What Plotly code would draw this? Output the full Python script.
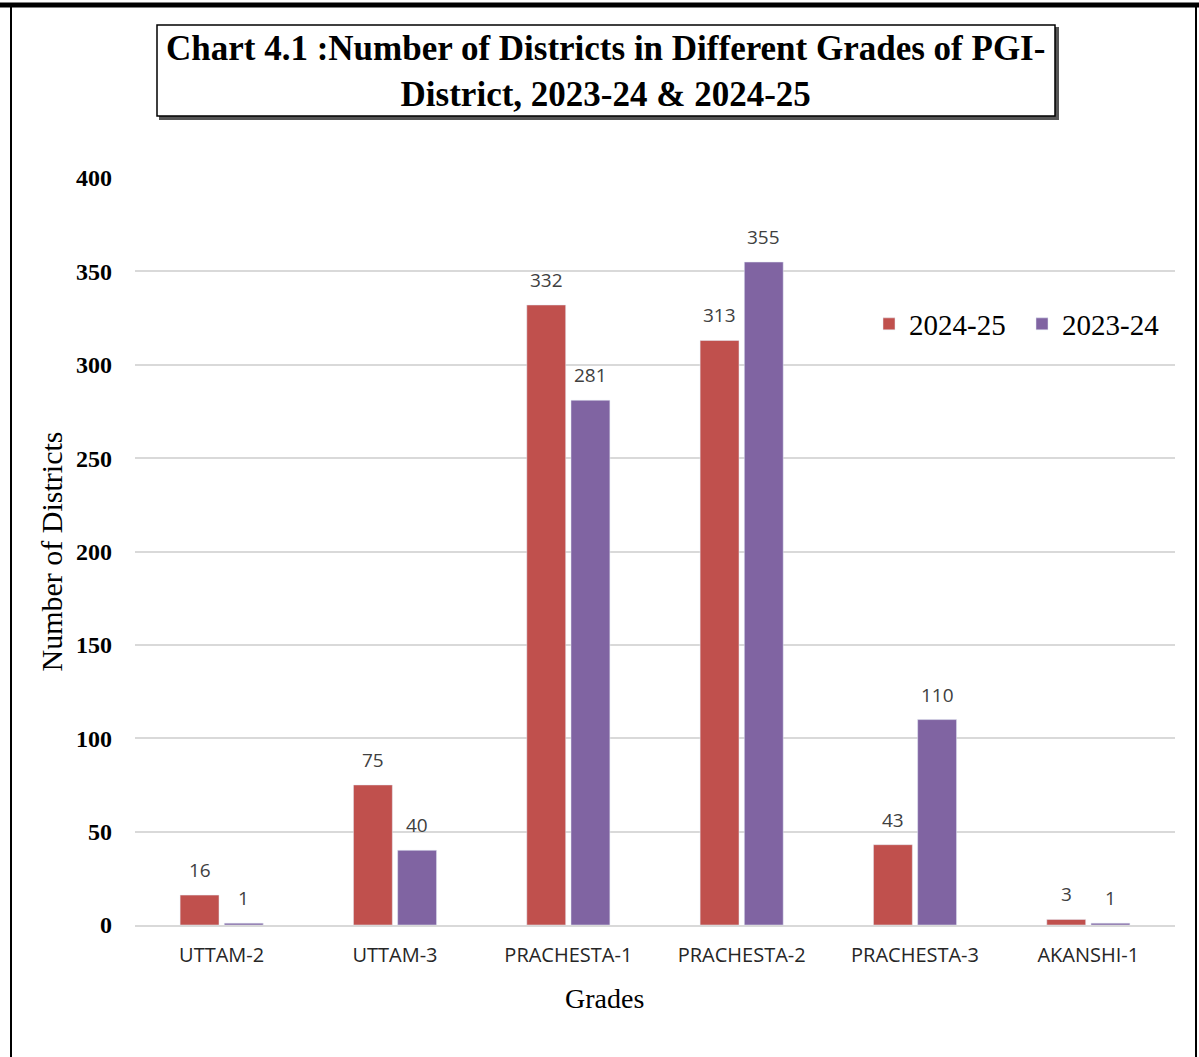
import plotly.graph_objects as go

categories = ["UTTAM-2", "UTTAM-3", "PRACHESTA-1", "PRACHESTA-2", "PRACHESTA-3", "AKANSHI-1"]
values_2024_25 = [16, 75, 332, 313, 43, 3]
values_2023_24 = [1, 40, 281, 355, 110, 1]
y_ticks = [0, 50, 100, 150, 200, 250, 300, 350, 400]

W, H = 1199, 1057
L, R, T, B = 135, 24, 178, 132
PW, PH = W - L - R, H - T - B
BARGAP = 0.49
SERIF = "Liberation Serif"
SANS = "Open Sans"

def px(x):
    return (x - L) / PW

def py(y):
    return (H - B - y) / PH

fig = go.Figure()
fig.add_trace(go.Bar(name="2024-25", x=categories, y=values_2024_25, marker_color="#C0504D"))
fig.add_trace(go.Bar(name="2023-24", x=categories, y=values_2023_24, marker_color="#8064A2"))

# data labels placed above each bar, in data coordinates
half = (1 - BARGAP) / 4
annotations = []
for series, off in ((values_2024_25, -half), (values_2023_24, half)):
    for i, v in enumerate(series):
        annotations.append(dict(
            x=i + off, y=v, xref="x", yref="y", text=str(v), showarrow=False,
            yanchor="middle", xanchor="center", yshift=25,
            font=dict(family=SANS, size=19, color="#404040"),
        ))

annotations.append(dict(
    text="<b>Chart 4.1 :Number of Districts in Different Grades of PGI-<br>District, 2023-24 &amp; 2024-25</b>",
    xref="paper", yref="paper", x=px(605), y=py(71), xanchor="center", yanchor="middle",
    showarrow=False, align="center",
    font=dict(family=SERIF, size=35, color="black")))

annotations.append(dict(
    text="Grades", xref="paper", yref="paper", x=px(604), y=py(999),
    xanchor="center", yanchor="middle", showarrow=False,
    font=dict(family=SERIF, size=28, color="black")))

shapes = [
    dict(type="line", xref="paper", yref="paper", x0=px(0), x1=px(W), y0=py(5), y1=py(5),
         line=dict(color="black", width=5)),
    dict(type="line", xref="paper", yref="paper", x0=px(11), x1=px(11), y0=py(4), y1=py(H),
         line=dict(color="black", width=2)),
    dict(type="line", xref="paper", yref="paper", x0=px(1196), x1=px(1196), y0=py(4), y1=py(H),
         line=dict(color="black", width=2)),
    dict(type="rect", xref="paper", yref="paper", x0=px(160), x1=px(1058), y0=py(28), y1=py(119),
         line=dict(color="#555555", width=2), fillcolor="#555555"),
    dict(type="rect", xref="paper", yref="paper", x0=px(157), x1=px(1055), y0=py(25), y1=py(116),
         line=dict(color="black", width=1.5), fillcolor="white"),
]

fig.update_layout(
    width=W, height=H,
    margin=dict(l=L, r=R, t=T, b=B),
    paper_bgcolor="white", plot_bgcolor="white",
    barmode="group", bargap=BARGAP, bargroupgap=0.12,
    shapes=shapes, annotations=annotations,
    showlegend=True,
    legend=dict(orientation="h", x=px(869), y=py(324), xanchor="left", yanchor="middle",
                font=dict(family=SERIF, size=29, color="black"),
                entrywidth=108, bgcolor="rgba(0,0,0,0)"),
    xaxis=dict(
        tickfont=dict(family=SANS, size=20, color="#262626"),
        showline=True, linecolor="#D9D9D9", linewidth=2, ticks="", ticklabelstandoff=11,
    ),
    yaxis=dict(
        title=dict(text="Number of Districts", font=dict(family=SERIF, size=30, color="black"), standoff=4),
        range=[0, 400], tickvals=y_ticks,
        tickfont=dict(family=SERIF, size=24, color="black", weight="bold"),
        showgrid=True, gridcolor="#D9D9D9", gridwidth=1.5, zeroline=False, showline=False,
        ticklabelstandoff=22,
    ),
)

fig.write_html("out.html", config={"displayModeBar": False},
               post_script="document.body.style.margin='0';")
